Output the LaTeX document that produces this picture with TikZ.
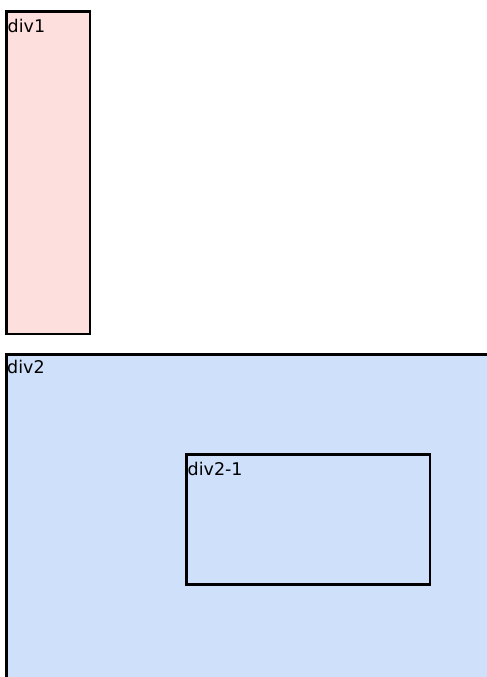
\documentclass[tikz,border=0pt]{standalone}
\usepackage{fontspec}
\setmainfont{DejaVu Sans}
\usetikzlibrary{positioning}
\definecolor{divpink}{RGB}{253,224,221}
\definecolor{divblue}{RGB}{207,224,251}
\tikzset{
    divbox/.style={draw=black, line width=2.8pt, inner sep=0pt, anchor=north west},
    divlabel/.style={inner sep=0pt, font=\fontsize{17.5}{20}\selectfont}
}

\begin{document}
\begin{tikzpicture}[x=1pt, y=-1pt]
                \useasboundingbox (0,0) rectangle (487,677);
                \node[divbox, fill=divpink, minimum width=83.5pt, minimum height=322.5pt] (div1) at (5,10) {};
                \node[divbox, fill=divblue, minimum width=490pt, minimum height=324pt] (div2) at (5,353) {};
                \node[divbox, fill=divblue, minimum width=243.5pt, minimum height=130pt] (div21) at (185,453) {};
                \node[divlabel, below right=9pt and 2.5pt of div1.north west] (div1label) {div1};
                \node[divlabel, below right=7pt and 2pt of div2.north west] (div2label) {div2};
                \node[divlabel, below right=9pt and 2.5pt of div21.north west] (div21label) {div2-1};
            \end{tikzpicture}
\end{document}
